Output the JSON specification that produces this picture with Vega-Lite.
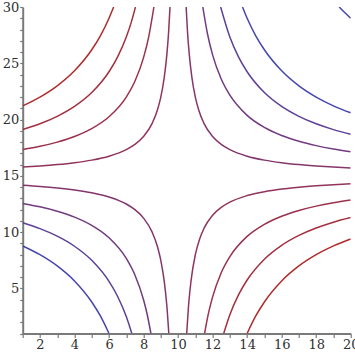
{
  "$schema": "https://vega.github.io/schema/vega-lite/v6.json",
  "width": 328,
  "height": 326.5,
  "autosize": {"type": "none"},
  "padding": {"left": 22.7, "top": 7, "right": 4.3, "bottom": 21.5},
  "config": {
    "view": {"stroke": null},
    "axis": {
      "labelFont": "DejaVu Serif",
      "labelFontSize": 13,
      "labelColor": "#303030",
      "domainColor": "#7a7a7a",
      "domainWidth": 2,
      "tickColor": "#7a7a7a",
      "tickWidth": 1.2,
      "grid": false,
      "title": null
    }
  },
  "data": {"values": [
    {"curve": "TL1", "level": -56, "x": 1, "y": 21.222},
    {"curve": "TL1", "level": -56, "x": 2, "y": 22},
    {"curve": "TL1", "level": -56, "x": 3, "y": 23},
    {"curve": "TL1", "level": -56, "x": 4, "y": 24.333},
    {"curve": "TL1", "level": -56, "x": 5, "y": 26.2},
    {"curve": "TL1", "level": -56, "x": 5.5, "y": 27.444},
    {"curve": "TL1", "level": -56, "x": 6, "y": 29},
    {"curve": "TL1", "level": -56, "x": 6.267, "y": 30},

    {"curve": "TL2", "level": -37, "x": 1, "y": 19.111},
    {"curve": "TL2", "level": -37, "x": 2, "y": 19.625},
    {"curve": "TL2", "level": -37, "x": 3, "y": 20.286},
    {"curve": "TL2", "level": -37, "x": 4, "y": 21.167},
    {"curve": "TL2", "level": -37, "x": 5, "y": 22.4},
    {"curve": "TL2", "level": -37, "x": 6, "y": 24.25},
    {"curve": "TL2", "level": -37, "x": 6.5, "y": 25.571},
    {"curve": "TL2", "level": -37, "x": 7, "y": 27.333},
    {"curve": "TL2", "level": -37, "x": 7.3, "y": 28.704},
    {"curve": "TL2", "level": -37, "x": 7.533, "y": 30},

    {"curve": "TL3", "level": -21.5, "x": 1, "y": 17.333},
    {"curve": "TL3", "level": -21.5, "x": 2, "y": 17.625},
    {"curve": "TL3", "level": -21.5, "x": 3, "y": 18},
    {"curve": "TL3", "level": -21.5, "x": 4, "y": 18.5},
    {"curve": "TL3", "level": -21.5, "x": 5, "y": 19.2},
    {"curve": "TL3", "level": -21.5, "x": 6, "y": 20.25},
    {"curve": "TL3", "level": -21.5, "x": 7, "y": 22},
    {"curve": "TL3", "level": -21.5, "x": 7.5, "y": 23.4},
    {"curve": "TL3", "level": -21.5, "x": 8, "y": 25.5},
    {"curve": "TL3", "level": -21.5, "x": 8.3, "y": 27.353},
    {"curve": "TL3", "level": -21.5, "x": 8.6, "y": 30},

    {"curve": "TL4", "level": -7, "x": 1, "y": 15.778},
    {"curve": "TL4", "level": -7, "x": 2, "y": 15.875},
    {"curve": "TL4", "level": -7, "x": 3, "y": 16},
    {"curve": "TL4", "level": -7, "x": 4, "y": 16.167},
    {"curve": "TL4", "level": -7, "x": 5, "y": 16.4},
    {"curve": "TL4", "level": -7, "x": 6, "y": 16.75},
    {"curve": "TL4", "level": -7, "x": 7, "y": 17.333},
    {"curve": "TL4", "level": -7, "x": 7.5, "y": 17.8},
    {"curve": "TL4", "level": -7, "x": 8, "y": 18.5},
    {"curve": "TL4", "level": -7, "x": 8.5, "y": 19.667},
    {"curve": "TL4", "level": -7, "x": 8.8, "y": 20.833},
    {"curve": "TL4", "level": -7, "x": 9, "y": 22},
    {"curve": "TL4", "level": -7, "x": 9.2, "y": 23.75},
    {"curve": "TL4", "level": -7, "x": 9.35, "y": 25.769},
    {"curve": "TL4", "level": -7, "x": 9.45, "y": 27.727},
    {"curve": "TL4", "level": -7, "x": 9.533, "y": 30},

    {"curve": "BL1", "level": 7.5, "x": 1, "y": 14.167},
    {"curve": "BL1", "level": 7.5, "x": 2, "y": 14.063},
    {"curve": "BL1", "level": 7.5, "x": 3, "y": 13.929},
    {"curve": "BL1", "level": 7.5, "x": 4, "y": 13.75},
    {"curve": "BL1", "level": 7.5, "x": 5, "y": 13.5},
    {"curve": "BL1", "level": 7.5, "x": 6, "y": 13.125},
    {"curve": "BL1", "level": 7.5, "x": 7, "y": 12.5},
    {"curve": "BL1", "level": 7.5, "x": 7.5, "y": 12},
    {"curve": "BL1", "level": 7.5, "x": 8, "y": 11.25},
    {"curve": "BL1", "level": 7.5, "x": 8.5, "y": 10},
    {"curve": "BL1", "level": 7.5, "x": 8.8, "y": 8.75},
    {"curve": "BL1", "level": 7.5, "x": 9, "y": 7.5},
    {"curve": "BL1", "level": 7.5, "x": 9.2, "y": 5.625},
    {"curve": "BL1", "level": 7.5, "x": 9.35, "y": 3.462},
    {"curve": "BL1", "level": 7.5, "x": 9.464, "y": 1},

    {"curve": "BL2", "level": 22, "x": 1, "y": 12.556},
    {"curve": "BL2", "level": 22, "x": 2, "y": 12.25},
    {"curve": "BL2", "level": 22, "x": 3, "y": 11.857},
    {"curve": "BL2", "level": 22, "x": 4, "y": 11.333},
    {"curve": "BL2", "level": 22, "x": 5, "y": 10.6},
    {"curve": "BL2", "level": 22, "x": 6, "y": 9.5},
    {"curve": "BL2", "level": 22, "x": 7, "y": 7.667},
    {"curve": "BL2", "level": 22, "x": 7.5, "y": 6.2},
    {"curve": "BL2", "level": 22, "x": 8, "y": 4},
    {"curve": "BL2", "level": 22, "x": 8.2, "y": 2.778},
    {"curve": "BL2", "level": 22, "x": 8.429, "y": 1},

    {"curve": "BL3", "level": 37.5, "x": 1, "y": 10.833},
    {"curve": "BL3", "level": 37.5, "x": 2, "y": 10.313},
    {"curve": "BL3", "level": 37.5, "x": 3, "y": 9.643},
    {"curve": "BL3", "level": 37.5, "x": 4, "y": 8.75},
    {"curve": "BL3", "level": 37.5, "x": 5, "y": 7.5},
    {"curve": "BL3", "level": 37.5, "x": 6, "y": 5.625},
    {"curve": "BL3", "level": 37.5, "x": 6.5, "y": 4.286},
    {"curve": "BL3", "level": 37.5, "x": 7, "y": 2.5},
    {"curve": "BL3", "level": 37.5, "x": 7.321, "y": 1},

    {"curve": "BL4", "level": 56, "x": 1, "y": 8.778},
    {"curve": "BL4", "level": 56, "x": 2, "y": 8},
    {"curve": "BL4", "level": 56, "x": 3, "y": 7},
    {"curve": "BL4", "level": 56, "x": 4, "y": 5.667},
    {"curve": "BL4", "level": 56, "x": 5, "y": 3.8},
    {"curve": "BL4", "level": 56, "x": 5.5, "y": 2.556},
    {"curve": "BL4", "level": 56, "x": 6, "y": 1},

    {"curve": "TR1", "level": 7, "x": 10.467, "y": 30},
    {"curve": "TR1", "level": 7, "x": 10.55, "y": 27.727},
    {"curve": "TR1", "level": 7, "x": 10.65, "y": 25.769},
    {"curve": "TR1", "level": 7, "x": 10.8, "y": 23.75},
    {"curve": "TR1", "level": 7, "x": 11, "y": 22},
    {"curve": "TR1", "level": 7, "x": 11.2, "y": 20.833},
    {"curve": "TR1", "level": 7, "x": 11.5, "y": 19.667},
    {"curve": "TR1", "level": 7, "x": 12, "y": 18.5},
    {"curve": "TR1", "level": 7, "x": 12.5, "y": 17.8},
    {"curve": "TR1", "level": 7, "x": 13, "y": 17.333},
    {"curve": "TR1", "level": 7, "x": 14, "y": 16.75},
    {"curve": "TR1", "level": 7, "x": 15, "y": 16.4},
    {"curve": "TR1", "level": 7, "x": 16, "y": 16.167},
    {"curve": "TR1", "level": 7, "x": 17, "y": 16},
    {"curve": "TR1", "level": 7, "x": 18, "y": 15.875},
    {"curve": "TR1", "level": 7, "x": 19, "y": 15.778},
    {"curve": "TR1", "level": 7, "x": 20, "y": 15.7},

    {"curve": "TR2", "level": 21.5, "x": 11.433, "y": 30},
    {"curve": "TR2", "level": 21.5, "x": 11.7, "y": 27.647},
    {"curve": "TR2", "level": 21.5, "x": 12, "y": 25.75},
    {"curve": "TR2", "level": 21.5, "x": 12.5, "y": 23.6},
    {"curve": "TR2", "level": 21.5, "x": 13, "y": 22.167},
    {"curve": "TR2", "level": 21.5, "x": 14, "y": 20.375},
    {"curve": "TR2", "level": 21.5, "x": 15, "y": 19.3},
    {"curve": "TR2", "level": 21.5, "x": 16, "y": 18.583},
    {"curve": "TR2", "level": 21.5, "x": 17, "y": 18.071},
    {"curve": "TR2", "level": 21.5, "x": 18, "y": 17.688},
    {"curve": "TR2", "level": 21.5, "x": 19, "y": 17.389},
    {"curve": "TR2", "level": 21.5, "x": 20, "y": 17.15},

    {"curve": "TR3", "level": 37, "x": 12.467, "y": 30},
    {"curve": "TR3", "level": 37, "x": 13, "y": 27.333},
    {"curve": "TR3", "level": 37, "x": 13.5, "y": 25.571},
    {"curve": "TR3", "level": 37, "x": 14, "y": 24.25},
    {"curve": "TR3", "level": 37, "x": 15, "y": 22.4},
    {"curve": "TR3", "level": 37, "x": 16, "y": 21.167},
    {"curve": "TR3", "level": 37, "x": 17, "y": 20.286},
    {"curve": "TR3", "level": 37, "x": 18, "y": 19.625},
    {"curve": "TR3", "level": 37, "x": 19, "y": 19.111},
    {"curve": "TR3", "level": 37, "x": 20, "y": 18.7},

    {"curve": "TR4", "level": 56, "x": 13.733, "y": 30},
    {"curve": "TR4", "level": 56, "x": 14, "y": 29},
    {"curve": "TR4", "level": 56, "x": 14.5, "y": 27.444},
    {"curve": "TR4", "level": 56, "x": 15, "y": 26.2},
    {"curve": "TR4", "level": 56, "x": 16, "y": 24.333},
    {"curve": "TR4", "level": 56, "x": 17, "y": 23},
    {"curve": "TR4", "level": 56, "x": 18, "y": 22},
    {"curve": "TR4", "level": 56, "x": 19, "y": 21.222},
    {"curve": "TR4", "level": 56, "x": 20, "y": 20.6},

    {"curve": "TR5", "level": 140, "x": 19.333, "y": 30},
    {"curve": "TR5", "level": 140, "x": 19.667, "y": 29.483},
    {"curve": "TR5", "level": 140, "x": 20, "y": 29},

    {"curve": "BR1", "level": -7, "x": 10.5, "y": 1},
    {"curve": "BR1", "level": -7, "x": 10.6, "y": 3.333},
    {"curve": "BR1", "level": -7, "x": 10.75, "y": 5.667},
    {"curve": "BR1", "level": -7, "x": 11, "y": 8},
    {"curve": "BR1", "level": -7, "x": 11.25, "y": 9.4},
    {"curve": "BR1", "level": -7, "x": 11.5, "y": 10.333},
    {"curve": "BR1", "level": -7, "x": 12, "y": 11.5},
    {"curve": "BR1", "level": -7, "x": 12.5, "y": 12.2},
    {"curve": "BR1", "level": -7, "x": 13, "y": 12.667},
    {"curve": "BR1", "level": -7, "x": 14, "y": 13.25},
    {"curve": "BR1", "level": -7, "x": 15, "y": 13.6},
    {"curve": "BR1", "level": -7, "x": 16, "y": 13.833},
    {"curve": "BR1", "level": -7, "x": 17, "y": 14},
    {"curve": "BR1", "level": -7, "x": 18, "y": 14.125},
    {"curve": "BR1", "level": -7, "x": 19, "y": 14.222},
    {"curve": "BR1", "level": -7, "x": 20, "y": 14.3},

    {"curve": "BR2", "level": -21.5, "x": 11.536, "y": 1},
    {"curve": "BR2", "level": -21.5, "x": 11.75, "y": 2.714},
    {"curve": "BR2", "level": -21.5, "x": 12, "y": 4.25},
    {"curve": "BR2", "level": -21.5, "x": 12.5, "y": 6.4},
    {"curve": "BR2", "level": -21.5, "x": 13, "y": 7.833},
    {"curve": "BR2", "level": -21.5, "x": 14, "y": 9.625},
    {"curve": "BR2", "level": -21.5, "x": 15, "y": 10.7},
    {"curve": "BR2", "level": -21.5, "x": 16, "y": 11.417},
    {"curve": "BR2", "level": -21.5, "x": 17, "y": 11.929},
    {"curve": "BR2", "level": -21.5, "x": 18, "y": 12.313},
    {"curve": "BR2", "level": -21.5, "x": 19, "y": 12.611},
    {"curve": "BR2", "level": -21.5, "x": 20, "y": 12.85},

    {"curve": "BR3", "level": -37, "x": 12.643, "y": 1},
    {"curve": "BR3", "level": -37, "x": 13, "y": 2.667},
    {"curve": "BR3", "level": -37, "x": 13.5, "y": 4.429},
    {"curve": "BR3", "level": -37, "x": 14, "y": 5.75},
    {"curve": "BR3", "level": -37, "x": 15, "y": 7.6},
    {"curve": "BR3", "level": -37, "x": 16, "y": 8.833},
    {"curve": "BR3", "level": -37, "x": 17, "y": 9.714},
    {"curve": "BR3", "level": -37, "x": 18, "y": 10.375},
    {"curve": "BR3", "level": -37, "x": 19, "y": 10.889},
    {"curve": "BR3", "level": -37, "x": 20, "y": 11.3},

    {"curve": "BR4", "level": -56, "x": 14, "y": 1},
    {"curve": "BR4", "level": -56, "x": 14.5, "y": 2.556},
    {"curve": "BR4", "level": -56, "x": 15, "y": 3.8},
    {"curve": "BR4", "level": -56, "x": 16, "y": 5.667},
    {"curve": "BR4", "level": -56, "x": 17, "y": 7},
    {"curve": "BR4", "level": -56, "x": 18, "y": 8},
    {"curve": "BR4", "level": -56, "x": 19, "y": 8.778},
    {"curve": "BR4", "level": -56, "x": 20, "y": 9.4}
  ]},
  "mark": {"type": "line", "strokeWidth": 1.5, "clip": true, "interpolate": "monotone"},
  "encoding": {
    "x": {
      "field": "x", "type": "quantitative",
      "scale": {"domain": [1, 20], "nice": false, "zero": false},
      "axis": {
        "values": [1,2,3,4,5,6,7,8,9,10,11,12,13,14,15,16,17,18,19,20],
        "labelExpr": "datum.value % 2 == 0 ? datum.label : ''",
        "tickSize": 4, "labelPadding": 1, "labelFlush": false, "labelOverlap": false
      }
    },
    "y": {
      "field": "y", "type": "quantitative",
      "scale": {"domain": [1, 30], "nice": false, "zero": false},
      "axis": {
        "values": [1,2,3,4,5,6,7,8,9,10,11,12,13,14,15,16,17,18,19,20,21,22,23,24,25,26,27,28,29,30],
        "labelExpr": "datum.value % 5 == 0 ? datum.label : ''",
        "tickSize": 3, "labelPadding": 1, "labelFlush": false, "labelOverlap": false
      }
    },
    "detail": {"field": "curve", "type": "nominal"},
    "color": {
      "field": "level", "type": "quantitative",
      "scale": {"domain": [-56, 0, 56], "range": ["#b02c2c", "#8e3462", "#4646b0"], "clamp": true, "interpolate": "rgb"},
      "legend": null
    }
  }
}
